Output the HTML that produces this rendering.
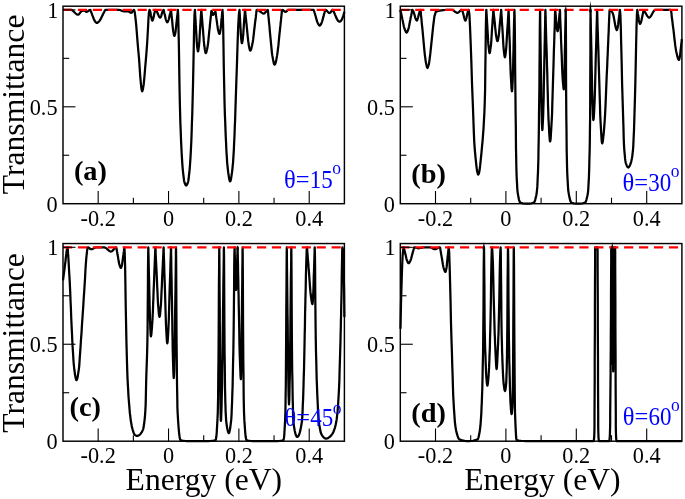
<!DOCTYPE html>
<html><head><meta charset="utf-8"><title>Transmittance</title>
<style>
html,body{margin:0;padding:0;background:#fff;}
svg{display:block;will-change:transform;font-family:"Liberation Serif",serif;}
</style></head>
<body>
<svg width="685" height="499" viewBox="0 0 685 499">
<rect width="685" height="499" fill="#fff"/>
<path d="M63.0,9.9 L64.3,9.9 L65.7,9.9 L67.0,9.9 L68.3,9.9 L69.7,9.9 L71.0,9.9 L72.2,10.3 L73.3,11.2 L74.5,12.3 L75.7,13.5 L76.8,14.4 L78.0,14.7 L78.7,14.5 L79.3,13.8 L80.0,12.9 L80.7,12.0 L81.3,11.2 L82.0,10.9 L82.4,10.8 L82.8,10.8 L83.2,10.7 L83.5,10.7 L83.9,10.7 L84.3,10.7 L84.7,10.8 L85.1,11.0 L85.4,11.3 L85.8,11.5 L86.2,11.8 L86.6,11.8 L87.2,11.7 L87.8,11.3 L88.4,10.9 L89.0,10.4 L89.6,10.0 L90.2,9.9 L90.4,10.0 L90.5,10.3 L90.7,10.7 L90.8,11.1 L91.0,11.6 L91.1,12.0 L91.3,12.5 L91.6,13.1 L91.8,13.6 L92.0,14.2 L92.2,14.8 L92.4,15.4 L92.8,16.3 L93.2,17.3 L93.5,18.3 L93.9,19.2 L94.3,20.0 L94.6,20.7 L95.0,21.2 L95.3,21.7 L95.7,22.2 L96.1,22.5 L96.4,22.8 L96.8,22.9 L97.3,22.8 L97.7,22.5 L98.2,22.2 L98.7,21.7 L99.2,21.2 L99.6,20.7 L100.1,20.0 L100.6,19.2 L101.1,18.3 L101.5,17.3 L102.0,16.3 L102.5,15.4 L102.8,14.8 L103.0,14.2 L103.3,13.6 L103.6,13.1 L103.9,12.5 L104.2,12.0 L104.4,11.6 L104.6,11.1 L104.8,10.7 L105.0,10.3 L105.2,10.0 L105.4,9.9 L107.7,9.9 L109.9,9.9 L112.2,9.9 L114.5,9.9 L116.7,9.9 L119.0,9.9 L119.8,10.0 L120.7,10.3 L121.5,10.6 L122.3,10.9 L123.2,11.2 L124.0,11.3 L124.7,11.3 L125.3,11.3 L126.0,11.3 L126.7,11.3 L127.3,11.3 L128.0,11.3 L128.5,11.4 L129.0,11.7 L129.6,12.0 L130.1,12.4 L130.6,12.7 L131.1,12.8 L131.6,12.6 L132.1,12.1 L132.6,11.4 L133.0,10.7 L133.5,10.1 L134.0,9.9 L134.7,11.9 L135.4,17.3 L136.2,24.9 L136.9,33.7 L137.6,42.6 L138.3,50.6 L139.0,58.1 L139.6,66.9 L140.2,75.8 L140.9,83.6 L141.5,89.2 L142.2,91.3 L142.9,89.4 L143.7,84.4 L144.4,77.2 L145.1,68.5 L145.9,59.4 L146.6,50.6 L147.1,43.8 L147.6,35.2 L148.1,26.1 L148.5,18.0 L149.0,12.2 L149.5,9.9 L150.0,10.7 L150.5,12.7 L150.9,15.2 L151.4,17.8 L151.9,19.8 L152.4,20.6 L152.9,19.8 L153.5,17.8 L154.0,15.2 L154.5,12.7 L155.1,10.7 L155.6,9.9 L156.3,10.5 L157.1,11.9 L157.8,13.8 L158.6,15.6 L159.3,17.1 L160.1,17.7 L160.7,17.1 L161.3,15.6 L161.8,13.8 L162.4,11.9 L163.0,10.5 L163.6,9.9 L163.6,9.9 L163.7,10.1 L163.7,10.2 L163.7,10.5 L163.8,10.7 L163.8,10.8 L164.0,11.5 L164.2,12.3 L164.3,13.0 L164.5,13.7 L164.7,14.4 L164.9,15.1 L165.1,16.0 L165.3,17.0 L165.5,17.9 L165.7,18.8 L165.9,19.6 L166.1,20.2 L166.3,20.7 L166.5,21.2 L166.7,21.6 L166.9,22.0 L167.1,22.2 L167.3,22.3 L167.5,22.2 L167.7,22.0 L167.9,21.6 L168.1,21.2 L168.3,20.7 L168.5,20.2 L168.7,19.6 L168.9,18.8 L169.1,17.9 L169.3,17.0 L169.5,16.0 L169.7,15.1 L169.9,14.4 L170.1,13.7 L170.3,13.0 L170.4,12.3 L170.6,11.5 L170.8,10.8 L170.8,10.7 L170.9,10.5 L170.9,10.2 L170.9,10.1 L171.0,9.9 L171.0,9.9 L171.0,10.0 L171.1,10.3 L171.1,10.6 L171.1,11.1 L171.2,11.5 L171.2,11.8 L171.4,13.3 L171.5,14.8 L171.7,16.3 L171.8,17.8 L172.0,19.3 L172.2,20.8 L172.3,22.7 L172.5,24.7 L172.7,26.7 L172.9,28.6 L173.1,30.2 L173.3,31.5 L173.5,32.5 L173.7,33.5 L173.8,34.4 L174.0,35.2 L174.2,35.7 L174.4,35.9 L174.6,35.7 L174.8,35.2 L175.0,34.4 L175.2,33.5 L175.4,32.5 L175.6,31.5 L175.7,30.2 L175.9,28.6 L176.1,26.7 L176.3,24.7 L176.5,22.7 L176.7,20.8 L176.9,19.3 L177.0,17.8 L177.2,16.3 L177.4,14.8 L177.5,13.3 L177.7,11.8 L177.7,11.5 L177.8,11.1 L177.8,10.6 L177.8,10.3 L177.9,10.0 L177.9,9.9 L178.2,15.0 L178.5,28.3 L178.9,46.6 L179.2,66.8 L179.5,86.0 L179.8,101.0 L180.0,109.0 L180.2,116.7 L180.4,123.9 L180.7,130.6 L180.9,136.5 L181.1,141.7 L181.4,147.9 L181.7,153.7 L182.0,158.9 L182.3,163.5 L182.6,167.5 L182.9,170.8 L183.2,173.5 L183.5,176.0 L183.8,178.3 L184.0,180.2 L184.3,181.7 L184.6,182.8 L184.9,183.5 L185.1,184.1 L185.4,184.7 L185.7,185.1 L185.9,185.4 L186.2,185.5 L186.5,185.4 L186.7,185.1 L187.0,184.7 L187.3,184.1 L187.5,183.5 L187.8,182.8 L188.1,181.7 L188.4,180.2 L188.7,178.3 L188.9,176.0 L189.2,173.5 L189.5,170.8 L189.8,167.5 L190.1,163.5 L190.4,158.9 L190.7,153.7 L191.0,147.9 L191.3,141.7 L191.5,136.4 L191.7,130.3 L191.9,123.4 L192.2,116.1 L192.4,108.6 L192.6,101.0 L193.0,85.0 L193.4,65.6 L193.8,45.5 L194.1,27.6 L194.5,14.8 L194.9,9.9 L194.9,10.1 L195.0,10.5 L195.0,11.1 L195.0,11.7 L195.1,12.4 L195.1,13.0 L195.2,15.4 L195.4,17.8 L195.5,20.2 L195.7,22.6 L195.8,24.9 L196.0,27.3 L196.1,30.3 L196.3,33.5 L196.5,36.7 L196.6,39.7 L196.8,42.3 L197.0,44.3 L197.1,46.0 L197.3,47.6 L197.5,49.1 L197.7,50.3 L197.8,51.1 L198.0,51.4 L198.2,51.1 L198.4,50.3 L198.5,49.1 L198.7,47.6 L198.9,46.0 L199.1,44.3 L199.3,42.3 L199.5,39.7 L199.6,36.7 L199.8,33.5 L200.0,30.3 L200.2,27.3 L200.3,24.9 L200.5,22.6 L200.6,20.2 L200.8,17.8 L200.9,15.4 L201.1,13.0 L201.1,12.4 L201.2,11.7 L201.2,11.1 L201.2,10.5 L201.3,10.1 L201.3,9.9 L201.3,10.1 L201.4,10.5 L201.4,11.1 L201.5,11.8 L201.5,12.5 L201.6,13.1 L201.8,15.6 L202.0,18.1 L202.2,20.6 L202.4,23.1 L202.6,25.6 L202.8,28.1 L203.1,31.2 L203.3,34.5 L203.6,37.8 L203.8,40.9 L204.1,43.7 L204.3,45.8 L204.6,47.5 L204.8,49.2 L205.1,50.7 L205.3,52.0 L205.6,52.8 L205.8,53.1 L206.1,52.8 L206.4,52.0 L206.7,50.8 L207.1,49.3 L207.4,47.6 L207.7,45.9 L208.0,43.9 L208.3,41.3 L208.6,38.2 L208.9,35.0 L209.2,31.7 L209.6,28.6 L209.8,26.8 L209.9,24.9 L210.1,23.1 L210.3,21.2 L210.5,19.4 L210.7,17.6 L210.8,16.3 L211.0,14.8 L211.1,13.4 L211.2,12.1 L211.4,11.2 L211.5,10.9 L211.7,11.2 L212.0,11.9 L212.2,12.9 L212.4,13.9 L212.7,14.6 L212.9,14.9 L213.3,14.7 L213.7,14.1 L214.2,13.4 L214.6,12.6 L215.0,12.1 L215.4,11.8 L215.5,12.0 L215.6,12.5 L215.7,13.1 L215.8,13.9 L215.9,14.7 L216.0,15.4 L216.1,16.3 L216.2,17.2 L216.4,18.2 L216.5,19.2 L216.7,20.2 L216.8,21.1 L217.0,22.7 L217.2,24.4 L217.5,26.1 L217.7,27.7 L217.9,29.1 L218.1,30.2 L218.4,31.1 L218.6,31.9 L218.8,32.7 L219.0,33.4 L219.3,33.8 L219.5,33.9 L219.7,33.8 L219.8,33.3 L220.0,32.6 L220.2,31.8 L220.3,30.8 L220.5,29.8 L220.7,28.7 L220.8,27.2 L221.0,25.4 L221.2,23.6 L221.3,21.7 L221.5,20.0 L221.6,18.6 L221.8,17.2 L221.9,15.9 L222.0,14.5 L222.2,13.1 L222.3,11.7 L222.3,11.4 L222.4,11.0 L222.4,10.6 L222.4,10.2 L222.5,10.0 L222.5,9.9 L222.8,15.1 L223.2,28.4 L223.5,46.9 L223.8,67.2 L224.2,86.3 L224.5,101.0 L224.7,108.2 L224.9,115.1 L225.2,121.5 L225.4,127.4 L225.6,132.9 L225.8,137.8 L226.1,143.4 L226.3,148.8 L226.6,153.8 L226.9,158.2 L227.1,162.0 L227.4,164.9 L227.8,169.1 L228.3,173.0 L228.8,176.3 L229.2,179.0 L229.7,180.8 L230.1,181.4 L230.6,180.8 L231.0,179.0 L231.4,176.3 L231.9,173.0 L232.4,169.1 L232.8,164.9 L233.1,162.0 L233.3,158.2 L233.6,153.8 L233.9,148.8 L234.1,143.4 L234.4,137.8 L234.6,132.7 L234.8,126.7 L235.1,120.2 L235.3,113.5 L235.5,107.0 L235.7,101.0 L236.3,82.7 L237.0,62.6 L237.6,42.9 L238.2,26.1 L238.9,14.3 L239.5,9.9 L239.5,10.0 L239.5,10.4 L239.6,10.8 L239.6,11.4 L239.6,11.9 L239.6,12.4 L239.8,14.3 L239.9,16.2 L240.0,18.2 L240.1,20.1 L240.2,22.0 L240.3,23.9 L240.4,26.3 L240.6,28.9 L240.7,31.4 L240.8,33.8 L241.0,35.9 L241.1,37.6 L241.2,38.9 L241.4,40.2 L241.5,41.4 L241.6,42.4 L241.8,43.0 L241.9,43.2 L242.1,43.0 L242.2,42.4 L242.4,41.4 L242.6,40.2 L242.8,38.9 L242.9,37.6 L243.1,35.9 L243.3,33.8 L243.4,31.4 L243.6,28.9 L243.8,26.3 L243.9,23.9 L244.1,22.0 L244.2,20.1 L244.4,18.2 L244.5,16.2 L244.7,14.3 L244.8,12.4 L244.8,11.9 L244.9,11.4 L244.9,10.8 L244.9,10.4 L245.0,10.0 L245.0,9.9 L245.1,10.1 L245.1,10.5 L245.2,11.0 L245.2,11.7 L245.3,12.4 L245.3,13.0 L245.6,15.3 L245.8,17.6 L246.1,20.0 L246.3,22.3 L246.6,24.6 L246.8,27.0 L247.1,29.9 L247.4,33.1 L247.7,36.2 L248.0,39.1 L248.3,41.7 L248.6,43.7 L248.8,45.3 L249.1,46.9 L249.4,48.4 L249.7,49.5 L250.0,50.3 L250.3,50.6 L250.7,50.3 L251.0,49.5 L251.4,48.4 L251.7,46.9 L252.1,45.3 L252.4,43.7 L252.8,41.7 L253.2,39.2 L253.5,36.3 L253.9,33.1 L254.2,30.0 L254.6,27.0 L254.8,25.2 L255.0,23.4 L255.2,21.6 L255.5,19.8 L255.7,18.1 L255.9,16.4 L256.0,15.1 L256.2,13.7 L256.3,12.3 L256.5,11.1 L256.6,10.2 L256.8,9.9 L258.0,10.2 L259.2,10.9 L260.4,11.7 L261.6,12.6 L262.8,13.3 L264.0,13.6 L264.6,13.3 L265.2,12.6 L265.9,11.7 L266.5,10.9 L267.1,10.2 L267.7,9.9 L267.9,10.3 L268.0,11.5 L268.2,13.1 L268.3,15.0 L268.5,16.9 L268.7,18.7 L268.9,20.9 L269.1,23.3 L269.4,25.7 L269.6,28.2 L269.8,30.6 L270.0,32.9 L270.4,37.0 L270.8,41.2 L271.2,45.4 L271.6,49.3 L271.9,52.8 L272.3,55.4 L272.7,57.6 L273.1,59.8 L273.5,61.7 L273.8,63.3 L274.2,64.4 L274.6,64.7 L275.0,64.4 L275.4,63.3 L275.9,61.7 L276.3,59.8 L276.7,57.6 L277.1,55.4 L277.5,52.8 L277.9,49.3 L278.4,45.4 L278.8,41.2 L279.2,37.0 L279.6,32.9 L279.9,30.6 L280.1,28.2 L280.4,25.7 L280.6,23.3 L280.9,20.9 L281.1,18.7 L281.3,16.9 L281.5,15.0 L281.7,13.1 L281.8,11.5 L282.0,10.3 L282.2,9.9 L282.8,10.0 L283.3,10.4 L283.9,10.9 L284.4,11.3 L284.9,11.7 L285.5,11.8 L286.0,11.7 L286.5,11.3 L287.0,10.9 L287.5,10.4 L288.0,10.0 L288.5,9.9 L292.7,9.9 L296.9,9.9 L301.1,9.9 L305.2,9.9 L309.4,9.9 L313.6,9.9 L313.7,10.0 L313.9,10.4 L314.0,10.8 L314.2,11.4 L314.3,11.9 L314.5,12.4 L314.7,13.1 L314.9,13.7 L315.1,14.4 L315.3,15.1 L315.5,15.8 L315.7,16.5 L316.0,17.6 L316.3,18.9 L316.7,20.1 L317.0,21.2 L317.4,22.2 L317.7,22.9 L318.0,23.6 L318.4,24.2 L318.7,24.7 L319.0,25.2 L319.4,25.5 L319.7,25.6 L320.0,25.5 L320.3,25.2 L320.6,24.7 L321.0,24.2 L321.3,23.6 L321.6,22.9 L321.9,22.2 L322.2,21.2 L322.5,20.1 L322.8,18.9 L323.1,17.6 L323.5,16.5 L323.7,15.8 L323.8,15.1 L324.0,14.4 L324.2,13.7 L324.4,13.1 L324.6,12.4 L324.7,11.9 L324.9,11.4 L325.0,10.8 L325.1,10.4 L325.3,10.0 L325.4,9.9 L326.1,10.1 L326.8,10.7 L327.5,11.5 L328.2,12.2 L328.9,12.8 L329.6,13.0 L330.2,12.8 L330.7,12.2 L331.2,11.5 L331.8,10.7 L332.3,10.1 L332.9,9.9 L333.1,10.0 L333.2,10.2 L333.4,10.6 L333.5,11.0 L333.7,11.4 L333.8,11.8 L334.0,12.3 L334.3,12.8 L334.5,13.3 L334.7,13.8 L334.9,14.4 L335.1,14.9 L335.5,15.7 L335.9,16.6 L336.2,17.6 L336.6,18.4 L337.0,19.1 L337.3,19.7 L337.7,20.2 L338.0,20.7 L338.4,21.1 L338.8,21.4 L339.1,21.6 L339.5,21.7 L340.3,21.4 L341.1,20.6 L341.9,19.3 L342.8,17.3 L343.6,14.9 L344.4,11.8" fill="none" stroke="#000" stroke-width="2.25" stroke-linejoin="round"/>
<line x1="63.0" y1="9.9" x2="344.4" y2="9.9" stroke="#f00" stroke-width="2.3" stroke-dasharray="9.2 5.72"/>
<rect x="63.0" y="6.2" width="281.40" height="197.50" fill="none" stroke="#000" stroke-width="1.45"/>
<line x1="98.17" y1="203.7" x2="98.17" y2="191.0" stroke="#000" stroke-width="1.1"/>
<line x1="133.35" y1="203.7" x2="133.35" y2="197.7" stroke="#000" stroke-width="1.1"/>
<line x1="168.52" y1="203.7" x2="168.52" y2="191.0" stroke="#000" stroke-width="1.1"/>
<line x1="203.70" y1="203.7" x2="203.70" y2="197.7" stroke="#000" stroke-width="1.1"/>
<line x1="238.88" y1="203.7" x2="238.88" y2="191.0" stroke="#000" stroke-width="1.1"/>
<line x1="274.05" y1="203.7" x2="274.05" y2="197.7" stroke="#000" stroke-width="1.1"/>
<line x1="309.22" y1="203.7" x2="309.22" y2="191.0" stroke="#000" stroke-width="1.1"/>
<line x1="63.0" y1="155.25" x2="69.2" y2="155.25" stroke="#000" stroke-width="1.1"/>
<line x1="63.0" y1="106.80" x2="75.5" y2="106.80" stroke="#000" stroke-width="1.1"/>
<line x1="63.0" y1="58.35" x2="69.2" y2="58.35" stroke="#000" stroke-width="1.1"/>
<line x1="63.0" y1="9.90" x2="75.5" y2="9.90" stroke="#000" stroke-width="1.1"/>
<text transform="translate(98.17,225.70) scale(1,1.07)" font-size="22.3" text-anchor="middle" >-0.2</text>
<text transform="translate(168.52,225.70) scale(1,1.07)" font-size="22.3" text-anchor="middle" >0</text>
<text transform="translate(238.88,225.70) scale(1,1.07)" font-size="22.3" text-anchor="middle" >0.2</text>
<text transform="translate(309.22,225.70) scale(1,1.07)" font-size="22.3" text-anchor="middle" >0.4</text>
<text transform="translate(57.60,211.50) scale(1,1.07)" font-size="22.3" text-anchor="end" >0</text>
<text transform="translate(57.60,114.60) scale(1,1.07)" font-size="22.3" text-anchor="end" >0.5</text>
<text transform="translate(58.40,17.70) scale(1,1.07)" font-size="22.3" text-anchor="end" >1</text>
<text transform="translate(73.90,180.10) scale(1,0.97)" font-size="28.4" text-anchor="start" font-weight="bold">(a)</text>
<text transform="translate(284.00,188.30) scale(1,1.07)" font-size="23" text-anchor="start" fill="#00f"><tspan font-size="24.5">&#952;=</tspan><tspan dx="0.2">15</tspan><tspan font-size="17.5" dy="-13.3" dx="-0.4">o</tspan></text>
<path d="M400.3,9.9 L400.4,10.5 L400.6,11.1 L400.7,11.7 L400.9,12.3 L401.0,12.9 L401.2,13.5 L401.4,14.5 L401.6,15.4 L401.8,16.4 L402.0,17.4 L402.2,18.4 L402.4,19.4 L402.8,21.1 L403.1,22.8 L403.5,24.6 L403.8,26.2 L404.2,27.6 L404.5,28.7 L404.9,29.6 L405.2,30.5 L405.6,31.3 L405.9,32.0 L406.3,32.4 L406.6,32.6 L406.9,32.4 L407.2,32.0 L407.5,31.3 L407.9,30.5 L408.2,29.6 L408.5,28.7 L408.8,27.6 L409.1,26.2 L409.4,24.5 L409.7,22.8 L410.0,21.1 L410.4,19.4 L410.6,18.1 L410.9,16.8 L411.2,15.5 L411.4,14.2 L411.7,12.9 L412.0,11.6 L412.0,11.3 L412.1,10.9 L412.1,10.5 L412.2,10.2 L412.2,10.0 L412.3,9.9 L413.1,10.7 L413.8,12.7 L414.6,15.2 L415.3,17.8 L416.1,19.8 L416.8,20.6 L417.4,19.8 L418.0,17.8 L418.6,15.2 L419.3,12.7 L419.9,10.7 L420.5,9.9 L420.6,10.1 L420.6,10.7 L420.7,11.5 L420.8,12.5 L420.9,13.4 L420.9,14.3 L421.3,17.6 L421.6,21.0 L421.9,24.3 L422.3,27.6 L422.6,31.0 L422.9,34.3 L423.3,38.5 L423.7,43.0 L424.1,47.5 L424.5,51.7 L424.9,55.3 L425.3,58.2 L425.6,60.5 L426.0,62.8 L426.4,64.8 L426.8,66.5 L427.2,67.6 L427.6,68.0 L429.0,63.9 L430.3,53.7 L431.7,40.3 L433.1,26.8 L434.4,16.3 L435.8,11.8 L437.7,11.2 L439.5,10.7 L441.4,10.4 L443.3,10.1 L445.1,10.0 L447.0,9.9 L447.8,9.9 L448.7,9.9 L449.5,9.9 L450.3,9.9 L451.2,9.9 L452.0,9.9 L452.9,10.1 L453.8,10.7 L454.6,11.4 L455.5,12.1 L456.4,12.6 L457.3,12.8 L458.1,12.6 L458.8,12.1 L459.6,11.4 L460.3,10.7 L461.1,10.1 L461.8,9.9 L462.4,10.7 L463.0,12.7 L463.6,15.2 L464.2,17.8 L464.8,19.8 L465.4,20.6 L465.9,19.8 L466.5,17.8 L467.0,15.2 L467.6,12.7 L468.1,10.7 L468.7,9.9 L469.4,14.4 L470.0,26.4 L470.7,43.5 L471.4,63.2 L472.0,83.2 L472.7,101.0 L473.0,108.7 L473.3,117.2 L473.6,125.8 L473.9,133.9 L474.2,140.7 L474.5,145.6 L475.1,153.2 L475.8,160.1 L476.4,166.0 L477.0,170.6 L477.7,173.6 L478.3,174.6 L478.9,173.4 L479.6,170.1 L480.2,165.2 L480.8,159.1 L481.5,152.4 L482.1,145.6 L482.6,140.6 L483.0,135.2 L483.5,128.9 L483.9,121.4 L484.4,112.2 L484.8,101.0 L485.1,89.5 L485.3,71.3 L485.6,50.3 L485.8,30.5 L486.1,15.7 L486.3,9.9 L486.3,10.1 L486.4,10.5 L486.4,11.1 L486.4,11.8 L486.5,12.5 L486.5,13.1 L486.7,15.6 L486.8,18.1 L487.0,20.6 L487.1,23.1 L487.3,25.6 L487.4,28.1 L487.6,31.2 L487.8,34.5 L488.0,37.8 L488.1,40.9 L488.3,43.7 L488.5,45.8 L488.7,47.5 L488.9,49.2 L489.1,50.7 L489.2,52.0 L489.4,52.8 L489.6,53.1 L489.8,52.8 L490.0,52.0 L490.2,50.7 L490.4,49.2 L490.6,47.5 L490.9,45.8 L491.1,43.7 L491.3,40.9 L491.5,37.8 L491.7,34.5 L491.9,31.2 L492.1,28.1 L492.3,25.6 L492.5,23.1 L492.6,20.6 L492.8,18.1 L493.0,15.6 L493.2,13.1 L493.2,12.5 L493.2,11.8 L493.3,11.1 L493.3,10.5 L493.4,10.1 L493.4,9.9 L493.4,10.0 L493.5,10.3 L493.5,10.8 L493.6,11.3 L493.6,11.8 L493.6,12.2 L493.8,14.0 L494.0,15.8 L494.2,17.6 L494.4,19.4 L494.6,21.2 L494.8,23.0 L495.0,25.3 L495.2,27.7 L495.5,30.1 L495.7,32.3 L495.9,34.3 L496.1,35.8 L496.4,37.1 L496.6,38.3 L496.8,39.4 L497.0,40.3 L497.3,40.9 L497.5,41.1 L497.7,40.9 L497.9,40.3 L498.1,39.4 L498.3,38.3 L498.5,37.1 L498.7,35.8 L498.9,34.3 L499.1,32.3 L499.3,30.1 L499.5,27.7 L499.7,25.3 L499.9,23.0 L500.1,21.2 L500.3,19.4 L500.5,17.6 L500.6,15.8 L500.8,14.0 L501.0,12.2 L501.0,11.8 L501.1,11.3 L501.1,10.8 L501.1,10.3 L501.2,10.0 L501.2,9.9 L501.2,10.1 L501.3,10.6 L501.3,11.2 L501.3,12.0 L501.4,12.8 L501.4,13.4 L501.6,16.2 L501.8,18.9 L501.9,21.6 L502.1,24.3 L502.3,27.0 L502.5,29.8 L502.7,33.2 L502.9,36.8 L503.1,40.4 L503.3,43.9 L503.5,46.8 L503.7,49.1 L503.9,51.1 L504.1,52.9 L504.3,54.6 L504.5,55.9 L504.7,56.9 L504.9,57.2 L505.1,56.9 L505.3,55.9 L505.5,54.6 L505.7,52.9 L505.9,51.1 L506.1,49.1 L506.3,46.8 L506.5,43.9 L506.7,40.4 L506.9,36.8 L507.1,33.2 L507.3,29.8 L507.5,27.0 L507.7,24.3 L507.9,21.6 L508.0,18.9 L508.2,16.2 L508.4,13.4 L508.4,12.8 L508.5,12.0 L508.5,11.2 L508.5,10.6 L508.6,10.1 L508.6,9.9 L508.6,10.2 L508.7,11.0 L508.7,12.2 L508.7,13.5 L508.8,14.8 L508.8,16.0 L509.0,20.7 L509.1,25.4 L509.3,30.1 L509.4,34.7 L509.6,39.4 L509.8,44.1 L509.9,50.0 L510.1,56.2 L510.3,62.5 L510.5,68.4 L510.7,73.5 L510.9,77.5 L511.1,80.7 L511.3,83.9 L511.4,86.8 L511.6,89.2 L511.8,90.7 L512.0,91.3 L512.1,90.7 L512.3,89.2 L512.4,86.8 L512.5,83.9 L512.7,80.7 L512.8,77.5 L512.9,73.5 L513.1,68.4 L513.2,62.5 L513.3,56.2 L513.5,50.0 L513.6,44.1 L513.7,39.4 L513.8,34.7 L513.9,30.1 L514.0,25.4 L514.1,20.7 L514.3,16.0 L514.3,14.8 L514.3,13.5 L514.3,12.2 L514.4,11.0 L514.4,10.2 L514.4,9.9 L514.6,14.6 L514.8,26.9 L515.0,44.3 L515.1,64.1 L515.3,83.9 L515.5,101.0 L515.6,112.6 L515.8,125.1 L515.9,137.6 L516.0,149.1 L516.2,158.5 L516.3,164.9 L516.5,172.0 L516.7,178.0 L517.0,183.0 L517.2,187.1 L517.4,190.1 L517.6,192.1 L518.1,195.1 L518.6,197.7 L519.0,199.8 L519.5,201.3 L520.0,202.3 L520.5,202.7 L521.6,203.0 L522.7,203.3 L523.8,203.5 L524.8,203.6 L525.9,203.7 L527.0,203.7 L528.1,203.7 L529.2,203.6 L530.3,203.5 L531.4,203.3 L532.5,203.0 L533.6,202.7 L534.1,202.3 L534.7,201.3 L535.2,199.8 L535.7,197.7 L536.3,195.2 L536.8,192.1 L537.0,190.0 L537.3,186.9 L537.5,182.8 L537.7,177.7 L538.0,171.7 L538.2,164.9 L538.4,158.5 L538.5,149.6 L538.7,139.0 L538.9,127.0 L539.0,114.1 L539.2,101.0 L539.4,86.0 L539.5,66.9 L539.7,46.6 L539.8,28.3 L540.0,15.0 L540.1,9.9 L540.1,10.4 L540.1,11.6 L540.2,13.3 L540.2,15.2 L540.2,17.2 L540.2,18.9 L540.3,25.9 L540.4,32.8 L540.5,39.7 L540.6,46.5 L540.7,53.4 L540.8,60.4 L541.0,69.0 L541.1,78.3 L541.2,87.5 L541.3,96.2 L541.5,103.8 L541.6,109.6 L541.7,114.5 L541.8,119.2 L541.9,123.5 L542.1,126.9 L542.2,129.2 L542.3,130.1 L542.5,129.2 L542.6,126.9 L542.8,123.5 L543.0,119.2 L543.2,114.5 L543.3,109.6 L543.5,103.8 L543.7,96.2 L543.8,87.5 L544.0,78.3 L544.2,69.0 L544.3,60.4 L544.5,53.4 L544.6,46.5 L544.8,39.7 L544.9,32.8 L545.1,25.9 L545.2,18.9 L545.2,17.2 L545.3,15.2 L545.3,13.3 L545.3,11.6 L545.4,10.4 L545.4,9.9 L545.4,10.4 L545.5,11.7 L545.5,13.6 L545.6,15.8 L545.6,17.9 L545.7,19.8 L545.9,27.4 L546.1,34.9 L546.3,42.5 L546.6,50.0 L546.8,57.6 L547.0,65.2 L547.3,74.7 L547.5,84.8 L547.8,94.9 L548.0,104.4 L548.3,112.7 L548.5,119.1 L548.8,124.4 L549.1,129.6 L549.3,134.3 L549.6,138.0 L549.8,140.6 L550.1,141.5 L550.4,140.6 L550.7,138.0 L550.9,134.3 L551.2,129.6 L551.5,124.4 L551.8,119.1 L552.1,112.7 L552.3,104.4 L552.6,94.9 L552.9,84.8 L553.2,74.7 L553.5,65.2 L553.7,57.6 L553.9,50.0 L554.2,42.5 L554.4,34.9 L554.7,27.4 L554.9,19.8 L554.9,17.9 L555.0,15.8 L555.0,13.6 L555.1,11.7 L555.1,10.4 L555.2,9.9 L555.2,10.0 L555.2,10.2 L555.3,10.5 L555.3,10.8 L555.3,11.2 L555.3,11.5 L555.5,12.7 L555.6,14.0 L555.7,15.2 L555.8,16.4 L555.9,17.6 L556.0,18.9 L556.1,20.4 L556.3,22.0 L556.4,23.7 L556.5,25.2 L556.7,26.6 L556.8,27.6 L556.9,28.5 L557.1,29.3 L557.2,30.0 L557.3,30.7 L557.5,31.1 L557.6,31.2 L557.7,31.1 L557.9,30.7 L558.0,30.0 L558.1,29.3 L558.2,28.5 L558.4,27.6 L558.5,26.6 L558.6,25.2 L558.7,23.7 L558.9,22.0 L559.0,20.4 L559.1,18.9 L559.2,17.6 L559.3,16.4 L559.4,15.2 L559.5,14.0 L559.7,12.7 L559.8,11.5 L559.8,11.2 L559.8,10.8 L559.8,10.5 L559.9,10.2 L559.9,10.0 L559.9,9.9 L559.9,10.2 L560.0,11.0 L560.0,12.1 L560.1,13.4 L560.1,14.7 L560.1,15.9 L560.3,20.5 L560.5,25.0 L560.7,29.6 L560.9,34.1 L561.0,38.7 L561.2,43.3 L561.4,49.0 L561.7,55.1 L561.9,61.2 L562.1,67.0 L562.3,72.0 L562.5,75.9 L562.7,79.1 L562.9,82.2 L563.2,85.0 L563.4,87.3 L563.6,88.8 L563.8,89.4 L563.9,88.8 L564.0,87.3 L564.1,85.0 L564.2,82.2 L564.3,79.1 L564.4,75.9 L564.5,72.0 L564.6,67.0 L564.7,61.2 L564.8,55.1 L564.9,49.0 L565.1,43.3 L565.1,38.7 L565.2,34.1 L565.3,29.6 L565.4,25.0 L565.5,20.5 L565.6,15.9 L565.6,14.7 L565.6,13.4 L565.6,12.1 L565.7,11.0 L565.7,10.2 L565.7,9.9 L565.8,15.3 L565.9,29.3 L566.0,48.3 L566.0,68.9 L566.1,87.6 L566.2,101.0 L566.3,115.7 L566.5,129.3 L566.6,141.3 L566.7,151.4 L566.9,159.4 L567.0,164.9 L567.2,172.2 L567.5,178.3 L567.8,183.2 L568.0,187.1 L568.2,190.0 L568.5,192.1 L569.0,195.1 L569.5,197.6 L570.0,199.7 L570.5,201.3 L571.0,202.3 L571.5,202.7 L572.6,203.0 L573.7,203.3 L574.8,203.5 L575.8,203.6 L576.9,203.7 L578.0,203.7 L579.1,203.7 L580.3,203.6 L581.4,203.5 L582.5,203.3 L583.7,203.0 L584.8,202.7 L585.3,202.3 L585.9,201.3 L586.4,199.8 L586.9,197.8 L587.5,195.2 L588.0,192.1 L588.2,190.1 L588.4,187.0 L588.6,182.9 L588.9,177.8 L589.1,171.8 L589.3,164.9 L589.4,159.4 L589.6,152.5 L589.8,143.7 L589.9,132.5 L590.1,118.4 L590.2,101.0 L590.2,89.8 L590.3,71.7 L590.4,50.6 L590.4,30.7 L590.5,15.8 L590.5,9.9 L590.5,10.3 L590.6,11.4 L590.6,13.0 L590.6,14.8 L590.6,16.6 L590.7,18.2 L590.8,24.5 L590.9,30.9 L591.1,37.2 L591.2,43.5 L591.4,49.8 L591.5,56.1 L591.6,64.1 L591.8,72.5 L592.0,81.0 L592.1,89.0 L592.3,95.9 L592.4,101.3 L592.6,105.7 L592.8,110.0 L592.9,113.9 L593.1,117.1 L593.2,119.2 L593.4,120.0 L593.6,119.2 L593.8,117.1 L594.0,113.9 L594.2,110.0 L594.4,105.7 L594.6,101.3 L594.8,95.9 L595.0,89.0 L595.2,81.0 L595.4,72.5 L595.6,64.1 L595.8,56.1 L596.0,49.8 L596.2,43.5 L596.4,37.2 L596.5,30.9 L596.7,24.5 L596.9,18.2 L596.9,16.6 L597.0,14.8 L597.0,13.0 L597.0,11.4 L597.1,10.3 L597.1,9.9 L597.2,10.4 L597.2,11.8 L597.3,13.7 L597.3,15.8 L597.4,18.0 L597.4,19.9 L597.6,27.6 L597.9,35.3 L598.1,43.0 L598.4,50.6 L598.6,58.3 L598.8,66.0 L599.1,75.6 L599.4,85.9 L599.7,96.2 L600.0,105.8 L600.2,114.2 L600.5,120.7 L600.8,126.1 L601.1,131.4 L601.4,136.1 L601.6,139.9 L601.9,142.5 L602.2,143.4 L602.6,142.5 L603.0,139.9 L603.4,136.1 L603.9,131.4 L604.3,126.1 L604.7,120.7 L605.1,114.3 L605.5,105.9 L605.9,96.4 L606.3,86.1 L606.7,75.8 L607.2,66.0 L607.4,60.2 L607.7,54.3 L607.9,48.4 L608.2,42.5 L608.4,36.8 L608.7,31.3 L608.8,27.1 L609.0,22.4 L609.2,17.8 L609.4,13.8 L609.5,11.0 L609.7,9.9 L610.2,10.0 L610.7,10.3 L611.2,10.8 L611.6,11.4 L612.1,12.1 L612.6,12.8 L613.3,14.8 L614.0,18.2 L614.7,22.2 L615.4,26.1 L616.1,28.9 L616.8,30.1 L617.0,29.9 L617.1,29.5 L617.3,28.9 L617.5,28.2 L617.7,27.4 L617.8,26.6 L618.0,25.6 L618.2,24.4 L618.3,22.9 L618.5,21.4 L618.7,19.8 L618.8,18.4 L619.0,17.2 L619.1,16.0 L619.3,14.9 L619.4,13.7 L619.6,12.6 L619.7,11.4 L619.7,11.1 L619.8,10.8 L619.8,10.5 L619.8,10.2 L619.9,10.0 L619.9,9.9 L620.4,14.6 L620.8,27.0 L621.2,44.5 L621.7,64.2 L622.1,83.6 L622.6,100.0 L622.9,109.3 L623.2,119.2 L623.5,129.0 L623.7,137.8 L624.0,145.1 L624.3,150.0 L624.6,153.4 L624.9,156.3 L625.1,158.9 L625.4,160.9 L625.7,162.5 L626.0,163.6 L626.4,164.6 L626.8,165.6 L627.1,166.3 L627.5,166.9 L627.9,167.3 L628.3,167.5 L628.7,167.3 L629.1,166.8 L629.5,166.1 L630.0,165.2 L630.4,164.1 L630.8,163.0 L631.2,161.8 L631.5,160.3 L631.9,158.4 L632.3,156.1 L632.6,153.3 L633.0,150.0 L633.3,145.5 L633.6,138.6 L634.0,130.0 L634.3,120.3 L634.6,110.0 L634.9,100.0 L635.3,84.8 L635.7,65.7 L636.1,45.7 L636.5,27.8 L636.9,14.9 L637.3,9.9 L637.3,10.0 L637.4,10.1 L637.4,10.3 L637.4,10.5 L637.4,10.7 L637.5,10.9 L637.6,11.8 L637.7,12.6 L637.8,13.4 L638.0,14.2 L638.1,15.0 L638.2,15.8 L638.4,16.8 L638.5,17.8 L638.7,18.9 L638.8,19.9 L639.0,20.8 L639.1,21.5 L639.3,22.0 L639.4,22.6 L639.6,23.1 L639.7,23.5 L639.9,23.8 L640.0,23.9 L640.2,23.8 L640.4,23.5 L640.6,23.1 L640.8,22.7 L641.0,22.2 L641.2,21.6 L641.3,21.0 L641.5,20.2 L641.7,19.3 L641.9,18.3 L642.1,17.3 L642.3,16.3 L642.5,15.6 L642.6,14.8 L642.8,14.1 L643.0,13.3 L643.1,12.6 L643.3,11.8 L643.3,11.7 L643.4,11.4 L643.4,11.2 L643.4,11.0 L643.5,10.9 L643.5,10.9 L644.4,11.4 L645.4,12.6 L646.3,14.3 L647.2,15.9 L648.2,17.1 L649.1,17.7 L650.1,17.1 L651.2,15.6 L652.2,13.8 L653.2,11.9 L654.3,10.5 L655.3,9.9 L657.9,9.9 L660.5,9.9 L663.0,9.9 L665.6,9.9 L668.2,9.9 L670.8,9.9 L671.0,10.3 L671.2,11.3 L671.4,12.8 L671.6,14.6 L671.7,16.3 L671.9,17.9 L672.2,20.0 L672.5,22.1 L672.7,24.3 L673.0,26.5 L673.3,28.7 L673.6,30.9 L674.0,34.6 L674.4,38.4 L674.9,42.3 L675.3,45.9 L675.8,49.0 L676.2,51.4 L676.7,53.4 L677.1,55.4 L677.6,57.2 L678.0,58.6 L678.5,59.5 L678.9,59.9 L679.1,59.8 L679.2,59.4 L679.4,58.8 L679.6,58.0 L679.7,57.2 L679.9,56.3 L680.1,55.3 L680.2,54.0 L680.4,52.5 L680.5,50.9 L680.7,49.3 L680.9,47.8 L681.0,46.9 L681.1,45.9 L681.2,45.0 L681.3,44.1 L681.4,43.2 L681.5,42.3 L681.5,41.7 L681.6,41.2 L681.7,40.6 L681.8,40.0 L681.8,39.5 L681.9,39.0" fill="none" stroke="#000" stroke-width="2.25" stroke-linejoin="round"/>
<line x1="400.3" y1="9.9" x2="681.9" y2="9.9" stroke="#f00" stroke-width="2.3" stroke-dasharray="9.2 5.72"/>
<rect x="400.3" y="6.2" width="281.60" height="197.50" fill="none" stroke="#000" stroke-width="1.45"/>
<line x1="435.50" y1="203.7" x2="435.50" y2="191.0" stroke="#000" stroke-width="1.1"/>
<line x1="470.70" y1="203.7" x2="470.70" y2="197.7" stroke="#000" stroke-width="1.1"/>
<line x1="505.90" y1="203.7" x2="505.90" y2="191.0" stroke="#000" stroke-width="1.1"/>
<line x1="541.10" y1="203.7" x2="541.10" y2="197.7" stroke="#000" stroke-width="1.1"/>
<line x1="576.30" y1="203.7" x2="576.30" y2="191.0" stroke="#000" stroke-width="1.1"/>
<line x1="611.50" y1="203.7" x2="611.50" y2="197.7" stroke="#000" stroke-width="1.1"/>
<line x1="646.70" y1="203.7" x2="646.70" y2="191.0" stroke="#000" stroke-width="1.1"/>
<line x1="400.3" y1="155.25" x2="406.5" y2="155.25" stroke="#000" stroke-width="1.1"/>
<line x1="400.3" y1="106.80" x2="412.8" y2="106.80" stroke="#000" stroke-width="1.1"/>
<line x1="400.3" y1="58.35" x2="406.5" y2="58.35" stroke="#000" stroke-width="1.1"/>
<line x1="400.3" y1="9.90" x2="412.8" y2="9.90" stroke="#000" stroke-width="1.1"/>
<text transform="translate(435.50,225.70) scale(1,1.07)" font-size="22.3" text-anchor="middle" >-0.2</text>
<text transform="translate(505.90,225.70) scale(1,1.07)" font-size="22.3" text-anchor="middle" >0</text>
<text transform="translate(576.30,225.70) scale(1,1.07)" font-size="22.3" text-anchor="middle" >0.2</text>
<text transform="translate(646.70,225.70) scale(1,1.07)" font-size="22.3" text-anchor="middle" >0.4</text>
<text transform="translate(394.90,211.50) scale(1,1.07)" font-size="22.3" text-anchor="end" >0</text>
<text transform="translate(394.90,114.60) scale(1,1.07)" font-size="22.3" text-anchor="end" >0.5</text>
<text transform="translate(395.70,17.70) scale(1,1.07)" font-size="22.3" text-anchor="end" >1</text>
<text transform="translate(411.20,183.00) scale(1,0.97)" font-size="28.4" text-anchor="start" font-weight="bold">(b)</text>
<text transform="translate(622.40,191.20) scale(1,1.07)" font-size="23" text-anchor="start" fill="#00f"><tspan font-size="24.5">&#952;=</tspan><tspan dx="0.2">30</tspan><tspan font-size="17.5" dy="-13.6" dx="-0.4">o</tspan></text>
<path d="M63.0,280.3 L63.4,277.6 L63.7,274.8 L64.1,272.0 L64.5,269.2 L64.8,266.3 L65.2,263.4 L65.5,261.1 L65.7,258.7 L66.0,256.3 L66.3,253.9 L66.5,251.9 L66.8,250.2 L66.9,249.6 L67.0,248.9 L67.2,248.3 L67.3,247.8 L67.4,247.4 L67.5,247.3 L67.6,247.8 L67.8,249.0 L67.9,250.7 L68.0,252.8 L68.2,255.0 L68.3,257.0 L68.6,261.8 L68.9,267.2 L69.2,272.9 L69.6,279.1 L69.9,285.4 L70.2,291.9 L70.5,299.7 L70.9,308.3 L71.2,317.2 L71.6,325.9 L72.0,334.0 L72.3,341.0 L72.6,346.8 L73.0,352.5 L73.3,357.8 L73.6,362.5 L74.0,366.5 L74.3,369.5 L74.7,372.1 L75.0,374.6 L75.4,376.8 L75.8,378.5 L76.1,379.7 L76.5,380.1 L76.9,379.7 L77.3,378.5 L77.7,376.8 L78.0,374.6 L78.4,372.1 L78.8,369.5 L79.2,366.3 L79.5,362.1 L79.8,357.1 L80.2,351.7 L80.6,346.2 L80.9,341.0 L81.5,332.8 L82.0,324.4 L82.6,315.8 L83.2,307.2 L83.7,298.6 L84.3,290.0 L84.7,283.8 L85.1,277.2 L85.4,270.7 L85.8,264.5 L86.2,259.2 L86.6,255.1 L86.8,253.3 L87.0,251.5 L87.2,249.9 L87.4,248.5 L87.6,247.6 L87.8,247.3 L88.3,247.4 L88.9,247.8 L89.4,248.3 L90.0,248.7 L90.5,249.1 L91.1,249.2 L92.0,249.1 L93.0,248.7 L93.9,248.3 L94.9,247.8 L95.8,247.4 L96.8,247.3 L98.0,247.3 L99.2,247.3 L100.4,247.3 L101.6,247.3 L102.8,247.3 L104.0,247.3 L105.2,247.6 L106.4,248.4 L107.5,249.4 L108.7,250.5 L109.9,251.2 L111.1,251.6 L111.9,251.2 L112.8,250.5 L113.7,249.4 L114.5,248.4 L115.3,247.6 L116.2,247.3 L116.3,247.5 L116.4,247.9 L116.5,248.5 L116.6,249.2 L116.7,249.9 L116.9,250.6 L117.0,251.4 L117.2,252.3 L117.3,253.2 L117.5,254.1 L117.6,255.0 L117.8,255.9 L118.1,257.4 L118.3,259.0 L118.6,260.6 L118.8,262.1 L119.1,263.4 L119.3,264.4 L119.6,265.2 L119.9,266.0 L120.1,266.7 L120.4,267.3 L120.6,267.7 L120.9,267.9 L121.1,267.7 L121.3,267.3 L121.5,266.7 L121.7,266.0 L121.9,265.2 L122.1,264.4 L122.2,263.4 L122.4,262.1 L122.6,260.6 L122.8,259.0 L123.0,257.4 L123.2,255.9 L123.4,254.7 L123.5,253.6 L123.7,252.4 L123.9,251.2 L124.0,250.0 L124.2,248.8 L124.2,248.5 L124.3,248.2 L124.3,247.9 L124.3,247.6 L124.4,247.4 L124.4,247.3 L124.7,252.4 L125.1,265.8 L125.4,284.3 L125.7,305.0 L126.1,324.7 L126.4,340.4 L126.6,348.0 L126.8,355.5 L127.0,362.6 L127.2,369.2 L127.4,375.1 L127.6,379.9 L127.9,385.6 L128.2,390.6 L128.4,395.0 L128.7,399.0 L129.0,402.6 L129.3,406.1 L129.5,408.7 L129.7,411.1 L129.9,413.4 L130.2,415.5 L130.4,417.4 L130.6,419.1 L130.9,421.3 L131.3,423.4 L131.6,425.3 L131.9,426.9 L132.3,428.4 L132.6,429.6 L133.0,430.7 L133.3,431.9 L133.7,432.9 L134.1,433.7 L134.4,434.4 L134.8,434.8 L135.2,435.1 L135.6,435.4 L135.9,435.6 L136.3,435.8 L136.7,435.9 L137.1,436.0 L137.5,435.9 L137.9,435.8 L138.3,435.6 L138.7,435.4 L139.1,435.1 L139.5,434.8 L140.1,434.3 L140.7,433.7 L141.2,433.0 L141.8,432.1 L142.4,430.9 L143.0,429.6 L143.3,428.6 L143.6,427.3 L143.8,425.7 L144.1,423.8 L144.4,421.5 L144.7,419.1 L144.8,417.6 L145.0,416.0 L145.1,414.0 L145.3,411.8 L145.4,409.2 L145.6,406.1 L145.7,403.1 L145.8,399.0 L145.9,394.3 L146.0,389.3 L146.1,384.4 L146.2,379.9 L146.4,373.4 L146.6,367.8 L146.8,362.4 L147.0,356.4 L147.2,349.3 L147.4,340.4 L147.6,328.0 L147.7,309.2 L147.9,287.9 L148.0,267.9 L148.2,253.1 L148.3,247.3 L148.3,247.6 L148.4,248.5 L148.4,249.8 L148.4,251.3 L148.4,252.7 L148.5,254.0 L148.6,259.1 L148.7,264.2 L148.8,269.3 L148.9,274.4 L149.1,279.6 L149.2,284.7 L149.3,291.1 L149.5,297.9 L149.6,304.8 L149.8,311.2 L149.9,316.8 L150.0,321.2 L150.2,324.8 L150.3,328.3 L150.5,331.4 L150.6,334.0 L150.8,335.7 L150.9,336.3 L151.1,335.7 L151.4,334.0 L151.6,331.4 L151.9,328.3 L152.1,324.8 L152.4,321.2 L152.6,316.8 L152.9,311.2 L153.1,304.8 L153.4,297.9 L153.6,291.1 L153.9,284.7 L154.1,279.6 L154.3,274.4 L154.5,269.3 L154.7,264.2 L154.9,259.1 L155.1,254.0 L155.2,252.7 L155.2,251.3 L155.3,249.8 L155.3,248.5 L155.4,247.6 L155.4,247.3 L155.4,247.6 L155.5,248.3 L155.5,249.3 L155.6,250.4 L155.6,251.5 L155.6,252.5 L155.8,256.5 L156.0,260.5 L156.2,264.5 L156.4,268.5 L156.6,272.5 L156.8,276.5 L157.0,281.6 L157.2,286.9 L157.5,292.3 L157.7,297.3 L157.9,301.7 L158.1,305.1 L158.4,307.9 L158.6,310.6 L158.8,313.1 L159.0,315.1 L159.3,316.4 L159.5,316.9 L159.7,316.4 L160.0,315.1 L160.2,313.1 L160.4,310.6 L160.6,307.9 L160.9,305.1 L161.1,301.7 L161.3,297.3 L161.5,292.3 L161.8,286.9 L162.0,281.6 L162.2,276.5 L162.4,272.5 L162.6,268.5 L162.8,264.5 L163.0,260.5 L163.2,256.5 L163.4,252.5 L163.4,251.5 L163.4,250.4 L163.5,249.3 L163.5,248.3 L163.6,247.6 L163.6,247.3 L163.6,247.7 L163.7,248.6 L163.7,250.0 L163.7,251.6 L163.8,253.1 L163.8,254.5 L164.0,260.0 L164.2,265.6 L164.3,271.1 L164.5,276.6 L164.7,282.1 L164.9,287.6 L165.1,294.5 L165.3,301.9 L165.5,309.3 L165.7,316.2 L165.9,322.3 L166.1,327.0 L166.3,330.8 L166.5,334.6 L166.7,338.0 L166.9,340.8 L167.1,342.6 L167.3,343.3 L167.5,342.6 L167.7,340.8 L167.9,338.0 L168.1,334.6 L168.3,330.8 L168.5,327.0 L168.7,322.3 L168.9,316.2 L169.1,309.3 L169.3,301.9 L169.5,294.5 L169.7,287.6 L169.9,282.1 L170.1,276.6 L170.3,271.1 L170.4,265.6 L170.6,260.0 L170.8,254.5 L170.8,253.1 L170.9,251.6 L170.9,250.0 L170.9,248.6 L171.0,247.7 L171.0,247.3 L171.0,247.8 L171.1,249.1 L171.1,251.0 L171.1,253.1 L171.1,255.2 L171.2,257.1 L171.3,264.7 L171.4,272.2 L171.6,279.7 L171.7,287.2 L171.8,294.7 L172.0,302.2 L172.1,311.6 L172.3,321.7 L172.4,331.7 L172.6,341.2 L172.7,349.4 L172.9,355.8 L173.0,361.1 L173.2,366.2 L173.3,370.8 L173.5,374.6 L173.6,377.1 L173.8,378.0 L173.9,377.1 L174.0,374.6 L174.2,370.8 L174.3,366.2 L174.4,361.1 L174.5,355.8 L174.6,349.4 L174.8,341.2 L174.9,331.7 L175.0,321.7 L175.1,311.6 L175.3,302.2 L175.4,294.7 L175.5,287.2 L175.6,279.7 L175.7,272.2 L175.8,264.7 L175.9,257.1 L175.9,255.2 L175.9,253.1 L175.9,251.0 L176.0,249.1 L176.0,247.8 L176.0,247.3 L176.1,253.1 L176.2,268.0 L176.3,288.4 L176.4,310.3 L176.5,330.2 L176.6,344.2 L176.8,360.3 L176.9,375.1 L177.1,388.2 L177.3,399.1 L177.4,407.2 L177.6,412.1 L178.1,420.7 L178.6,427.7 L179.1,433.1 L179.6,437.0 L180.1,439.4 L180.6,440.2 L182.2,440.6 L183.7,440.8 L185.3,441.0 L186.9,441.1 L188.4,441.2 L190.0,441.2 L192.5,441.2 L195.0,441.2 L197.5,441.2 L200.0,441.2 L202.5,441.2 L205.0,441.2 L206.8,441.2 L208.5,441.1 L210.2,441.0 L212.0,440.8 L213.8,440.6 L215.5,440.2 L215.9,439.4 L216.3,437.0 L216.7,433.1 L217.0,427.6 L217.4,420.7 L217.8,412.1 L217.9,406.8 L218.1,397.9 L218.2,386.3 L218.3,372.9 L218.5,358.6 L218.6,344.2 L218.7,328.5 L218.8,308.1 L218.9,286.5 L219.1,267.0 L219.2,252.8 L219.3,247.3 L219.3,248.0 L219.3,249.7 L219.3,252.2 L219.4,255.0 L219.4,257.9 L219.4,260.3 L219.5,270.3 L219.5,280.3 L219.6,290.3 L219.7,300.2 L219.8,310.2 L219.8,320.2 L219.9,332.7 L220.0,346.0 L220.1,359.4 L220.2,372.0 L220.3,382.9 L220.4,391.3 L220.5,398.4 L220.5,405.2 L220.6,411.3 L220.7,416.3 L220.8,419.6 L220.9,420.8 L221.1,419.6 L221.2,416.3 L221.4,411.3 L221.6,405.2 L221.7,398.4 L221.9,391.3 L222.1,382.9 L222.2,372.0 L222.4,359.4 L222.6,346.0 L222.7,332.7 L222.9,320.2 L223.0,310.2 L223.2,300.2 L223.3,290.3 L223.4,280.3 L223.6,270.3 L223.7,260.3 L223.8,257.9 L223.8,255.0 L223.8,252.2 L223.8,249.7 L223.9,248.0 L223.9,247.3 L224.0,252.7 L224.1,266.8 L224.2,286.0 L224.3,307.0 L224.4,326.3 L224.5,340.4 L224.6,353.9 L224.8,366.6 L224.9,378.0 L225.0,387.9 L225.2,395.8 L225.3,401.5 L225.5,406.6 L225.6,411.0 L225.8,414.7 L226.0,417.8 L226.1,420.1 L226.3,421.8 L226.7,425.0 L227.1,427.7 L227.6,430.0 L228.0,431.6 L228.4,432.7 L228.8,433.1 L229.2,432.7 L229.5,431.5 L229.9,429.8 L230.3,427.5 L230.6,424.8 L231.0,421.8 L231.2,419.9 L231.4,417.2 L231.6,414.0 L231.7,410.2 L231.9,406.0 L232.1,401.5 L232.3,394.7 L232.6,386.4 L232.8,376.6 L233.0,365.6 L233.3,353.5 L233.5,340.4 L233.7,326.1 L233.9,306.7 L234.1,285.8 L234.2,266.7 L234.4,252.7 L234.6,247.3 L234.6,247.5 L234.6,247.9 L234.6,248.5 L234.7,249.2 L234.7,249.9 L234.7,250.5 L234.7,253.0 L234.8,255.4 L234.9,257.9 L234.9,260.3 L235.0,262.8 L235.1,265.2 L235.2,268.3 L235.2,271.6 L235.3,274.9 L235.4,277.9 L235.5,280.6 L235.5,282.7 L235.6,284.4 L235.7,286.1 L235.8,287.6 L235.8,288.8 L235.9,289.7 L236.0,290.0 L236.1,289.7 L236.2,288.8 L236.3,287.6 L236.4,286.1 L236.4,284.4 L236.5,282.7 L236.6,280.6 L236.7,277.9 L236.8,274.9 L236.9,271.6 L237.0,268.3 L237.1,265.2 L237.1,262.8 L237.2,260.3 L237.3,257.9 L237.4,255.4 L237.4,253.0 L237.5,250.5 L237.5,249.9 L237.5,249.2 L237.6,248.5 L237.6,247.9 L237.6,247.5 L237.6,247.3 L237.6,247.8 L237.7,249.1 L237.7,251.0 L237.7,253.2 L237.8,255.3 L237.8,257.2 L238.0,264.8 L238.1,272.4 L238.3,280.0 L238.4,287.5 L238.6,295.1 L238.7,302.7 L238.9,312.2 L239.1,322.3 L239.3,332.5 L239.4,342.0 L239.6,350.3 L239.8,356.7 L240.0,362.1 L240.2,367.2 L240.4,371.9 L240.5,375.7 L240.7,378.2 L240.9,379.2 L241.0,378.2 L241.1,375.7 L241.2,371.9 L241.3,367.2 L241.4,362.1 L241.5,356.7 L241.6,350.3 L241.6,342.0 L241.7,332.5 L241.8,322.3 L241.9,312.2 L242.0,302.7 L242.1,295.1 L242.2,287.5 L242.3,280.0 L242.3,272.4 L242.4,264.8 L242.5,257.2 L242.5,255.3 L242.5,253.2 L242.5,251.0 L242.6,249.1 L242.6,247.8 L242.6,247.3 L242.7,252.9 L242.8,267.4 L242.9,287.3 L243.0,309.1 L243.1,329.2 L243.2,344.2 L243.3,359.3 L243.5,373.9 L243.6,387.3 L243.7,398.6 L243.9,407.1 L244.0,412.1 L244.4,420.9 L244.9,427.9 L245.3,433.3 L245.7,437.1 L246.2,439.4 L246.6,440.2 L248.0,440.6 L249.4,440.8 L250.8,441.0 L252.2,441.1 L253.6,441.2 L255.0,441.2 L258.3,441.2 L261.7,441.2 L265.0,441.2 L268.3,441.2 L271.7,441.2 L275.0,441.2 L276.4,441.2 L277.8,441.1 L279.2,441.0 L280.6,440.8 L282.0,440.6 L283.4,440.2 L283.7,439.4 L284.1,437.0 L284.4,433.1 L284.7,427.6 L285.1,420.6 L285.4,412.1 L285.5,406.7 L285.6,397.5 L285.8,385.7 L285.9,372.2 L286.0,358.1 L286.1,344.2 L286.2,327.8 L286.3,307.3 L286.5,285.8 L286.6,266.5 L286.7,252.6 L286.8,247.3 L286.8,247.9 L286.8,249.5 L286.9,251.7 L286.9,254.3 L286.9,256.9 L286.9,259.1 L287.0,268.2 L287.1,277.2 L287.2,286.2 L287.3,295.2 L287.4,304.2 L287.5,313.3 L287.7,324.6 L287.8,336.7 L287.9,348.8 L288.0,360.1 L288.2,370.0 L288.3,377.7 L288.4,384.0 L288.5,390.2 L288.6,395.7 L288.8,400.2 L288.9,403.3 L289.0,404.4 L289.1,403.3 L289.3,400.2 L289.4,395.7 L289.5,390.2 L289.6,384.0 L289.8,377.7 L289.9,370.0 L290.0,360.1 L290.1,348.8 L290.3,336.7 L290.4,324.6 L290.5,313.3 L290.6,304.2 L290.7,295.2 L290.8,286.2 L290.9,277.2 L291.1,268.2 L291.2,259.1 L291.2,256.9 L291.2,254.3 L291.2,251.7 L291.3,249.5 L291.3,247.9 L291.3,247.3 L291.4,252.8 L291.5,266.9 L291.6,286.2 L291.7,307.2 L291.8,326.4 L291.9,340.4 L292.0,351.7 L292.1,361.9 L292.2,371.1 L292.4,379.3 L292.5,386.5 L292.6,392.7 L292.7,399.3 L292.9,405.6 L293.0,411.4 L293.1,416.2 L293.3,419.8 L293.4,421.8 L294.1,426.8 L294.7,430.7 L295.4,433.6 L296.1,435.5 L296.7,436.6 L297.4,436.9 L298.1,436.5 L298.9,435.2 L299.6,433.1 L300.4,430.1 L301.1,426.4 L301.9,421.8 L302.1,419.5 L302.4,415.7 L302.6,410.9 L302.8,405.3 L303.1,399.1 L303.3,392.7 L303.5,386.1 L303.7,378.2 L304.0,369.5 L304.2,360.0 L304.4,350.3 L304.6,340.4 L304.7,333.9 L304.9,326.9 L305.0,319.6 L305.1,312.4 L305.3,305.6 L305.4,299.7 L305.7,288.2 L305.9,276.4 L306.2,265.3 L306.5,256.0 L306.7,249.7 L307.0,247.3 L307.1,247.5 L307.1,248.1 L307.2,248.9 L307.2,249.8 L307.3,250.8 L307.3,251.6 L307.6,254.8 L307.8,258.1 L308.1,261.4 L308.4,264.6 L308.6,267.9 L308.9,271.2 L309.2,275.3 L309.5,279.6 L309.8,284.0 L310.1,288.1 L310.4,291.7 L310.7,294.5 L311.0,296.8 L311.3,299.0 L311.6,301.0 L311.9,302.6 L312.2,303.7 L312.5,304.1 L312.6,303.7 L312.7,302.6 L312.9,301.0 L313.0,299.0 L313.1,296.8 L313.2,294.5 L313.3,291.7 L313.5,288.1 L313.6,284.0 L313.7,279.6 L313.8,275.3 L314.0,271.2 L314.1,267.9 L314.2,264.6 L314.3,261.4 L314.4,258.1 L314.5,254.8 L314.6,251.6 L314.6,250.8 L314.6,249.8 L314.6,248.9 L314.7,248.1 L314.7,247.5 L314.7,247.3 L314.9,252.9 L315.1,267.1 L315.2,286.6 L315.4,307.7 L315.6,326.8 L315.8,340.4 L316.0,352.0 L316.3,362.4 L316.5,371.6 L316.7,379.7 L317.0,386.7 L317.2,392.7 L317.5,399.2 L317.8,405.3 L318.0,410.6 L318.3,415.3 L318.6,419.0 L318.9,421.8 L319.3,425.0 L319.8,427.8 L320.2,430.1 L320.6,432.0 L321.1,433.4 L321.5,434.4 L322.2,435.6 L323.0,436.6 L323.8,437.5 L324.5,438.1 L325.2,438.5 L326.0,438.7 L327.0,438.5 L328.0,438.1 L329.0,437.4 L330.0,436.6 L331.0,435.6 L332.0,434.4 L332.7,433.4 L333.4,432.0 L334.1,430.1 L334.9,427.8 L335.6,425.1 L336.3,421.8 L336.7,419.2 L337.1,415.7 L337.6,411.2 L338.0,405.8 L338.4,399.6 L338.8,392.7 L339.1,386.9 L339.4,379.5 L339.6,370.8 L339.9,361.2 L340.2,350.9 L340.5,340.4 L340.6,334.5 L340.8,328.1 L340.9,321.3 L341.1,314.2 L341.2,306.9 L341.4,299.7 L341.6,290.2 L341.7,278.9 L341.9,267.4 L342.1,257.3 L342.2,250.1 L342.4,247.3 L342.7,248.2 L343.1,251.6 L343.4,258.9 L343.7,271.4 L344.1,290.4 L344.4,317.1" fill="none" stroke="#000" stroke-width="2.25" stroke-linejoin="round"/>
<line x1="63.0" y1="247.3" x2="344.4" y2="247.3" stroke="#f00" stroke-width="2.3" stroke-dasharray="9.2 5.72"/>
<rect x="63.0" y="243.55" width="281.40" height="197.65" fill="none" stroke="#000" stroke-width="1.45"/>
<line x1="98.17" y1="441.2" x2="98.17" y2="428.5" stroke="#000" stroke-width="1.1"/>
<line x1="133.35" y1="441.2" x2="133.35" y2="435.2" stroke="#000" stroke-width="1.1"/>
<line x1="168.52" y1="441.2" x2="168.52" y2="428.5" stroke="#000" stroke-width="1.1"/>
<line x1="203.70" y1="441.2" x2="203.70" y2="435.2" stroke="#000" stroke-width="1.1"/>
<line x1="238.88" y1="441.2" x2="238.88" y2="428.5" stroke="#000" stroke-width="1.1"/>
<line x1="274.05" y1="441.2" x2="274.05" y2="435.2" stroke="#000" stroke-width="1.1"/>
<line x1="309.22" y1="441.2" x2="309.22" y2="428.5" stroke="#000" stroke-width="1.1"/>
<line x1="63.0" y1="392.73" x2="69.2" y2="392.73" stroke="#000" stroke-width="1.1"/>
<line x1="63.0" y1="344.25" x2="75.5" y2="344.25" stroke="#000" stroke-width="1.1"/>
<line x1="63.0" y1="295.77" x2="69.2" y2="295.77" stroke="#000" stroke-width="1.1"/>
<line x1="63.0" y1="247.30" x2="75.5" y2="247.30" stroke="#000" stroke-width="1.1"/>
<text transform="translate(98.17,463.20) scale(1,1.07)" font-size="22.3" text-anchor="middle" >-0.2</text>
<text transform="translate(168.52,463.20) scale(1,1.07)" font-size="22.3" text-anchor="middle" >0</text>
<text transform="translate(238.88,463.20) scale(1,1.07)" font-size="22.3" text-anchor="middle" >0.2</text>
<text transform="translate(309.22,463.20) scale(1,1.07)" font-size="22.3" text-anchor="middle" >0.4</text>
<text transform="translate(57.60,449.00) scale(1,1.07)" font-size="22.3" text-anchor="end" >0</text>
<text transform="translate(57.60,352.05) scale(1,1.07)" font-size="22.3" text-anchor="end" >0.5</text>
<text transform="translate(58.40,255.10) scale(1,1.07)" font-size="22.3" text-anchor="end" >1</text>
<text transform="translate(69.50,416.30) scale(1,0.97)" font-size="28.4" text-anchor="start" font-weight="bold">(c)</text>
<text transform="translate(284.50,425.70) scale(1,1.07)" font-size="23" text-anchor="start" fill="#00f"><tspan font-size="24.5">&#952;=</tspan><tspan dx="0.2">45</tspan><tspan font-size="17.5" dy="-11.3" dx="-0.4">o</tspan></text>
<path d="M400.5,328.7 L401.0,303.3 L401.6,282.7 L402.1,267.0 L402.6,256.0 L403.2,249.4 L403.7,247.3 L403.7,247.4 L403.8,247.5 L403.8,247.7 L403.9,248.0 L403.9,248.3 L404.0,248.5 L404.2,249.4 L404.5,250.3 L404.7,251.2 L404.9,252.1 L405.1,253.1 L405.4,254.0 L405.6,255.1 L405.9,256.3 L406.2,257.6 L406.4,258.7 L406.7,259.7 L407.0,260.5 L407.3,261.1 L407.5,261.8 L407.8,262.3 L408.1,262.8 L408.3,263.1 L408.6,263.2 L408.9,263.1 L409.2,262.8 L409.5,262.3 L409.9,261.8 L410.2,261.1 L410.5,260.5 L410.8,259.7 L411.1,258.7 L411.4,257.6 L411.7,256.4 L412.0,255.1 L412.4,254.0 L412.6,253.3 L412.7,252.6 L412.9,251.9 L413.1,251.2 L413.3,250.5 L413.5,249.8 L413.6,249.3 L413.8,248.8 L413.9,248.2 L414.0,247.8 L414.2,247.4 L414.3,247.3 L415.0,247.4 L415.7,247.6 L416.4,247.8 L417.1,248.0 L417.8,248.2 L418.5,248.3 L419.4,248.2 L420.3,248.0 L421.2,247.8 L422.2,247.6 L423.1,247.4 L424.0,247.3 L425.0,247.3 L426.0,247.3 L427.0,247.3 L428.0,247.3 L429.0,247.3 L430.0,247.3 L430.8,247.4 L431.6,247.8 L432.4,248.3 L433.2,248.7 L434.0,249.1 L434.8,249.2 L435.6,249.1 L436.5,248.7 L437.4,248.3 L438.2,247.8 L439.0,247.4 L439.9,247.3 L440.0,247.5 L440.2,248.0 L440.3,248.7 L440.4,249.6 L440.5,250.5 L440.7,251.2 L440.9,252.3 L441.0,253.3 L441.2,254.4 L441.4,255.5 L441.6,256.6 L441.8,257.6 L442.1,259.5 L442.4,261.4 L442.7,263.2 L443.0,265.0 L443.3,266.5 L443.6,267.7 L443.9,268.7 L444.2,269.7 L444.5,270.6 L444.8,271.3 L445.1,271.8 L445.4,271.9 L445.6,271.8 L445.8,271.3 L445.9,270.6 L446.1,269.7 L446.3,268.7 L446.5,267.7 L446.7,266.5 L446.9,265.0 L447.0,263.2 L447.2,261.3 L447.4,259.4 L447.6,257.6 L447.7,256.2 L447.9,254.8 L448.0,253.4 L448.2,252.0 L448.3,250.6 L448.5,249.1 L448.5,248.8 L448.6,248.4 L448.6,248.0 L448.6,247.6 L448.7,247.4 L448.7,247.3 L449.2,252.2 L449.6,265.0 L450.1,282.9 L450.6,303.3 L451.0,323.4 L451.5,340.4 L451.9,351.7 L452.2,363.4 L452.6,375.0 L452.9,385.7 L453.2,395.1 L453.6,402.4 L453.9,408.1 L454.3,413.4 L454.6,418.1 L454.9,422.1 L455.3,425.3 L455.6,427.6 L456.2,430.7 L456.8,433.4 L457.5,435.7 L458.1,437.5 L458.7,438.7 L459.3,439.3 L460.8,439.9 L462.2,440.4 L463.6,440.7 L465.1,441.0 L466.6,441.2 L468.0,441.2 L469.6,441.2 L471.2,441.0 L472.9,440.8 L474.5,440.4 L476.1,439.9 L477.7,439.3 L478.1,438.7 L478.5,437.5 L478.9,435.6 L479.4,433.3 L479.8,430.6 L480.2,427.6 L480.5,425.2 L480.7,422.1 L481.0,418.2 L481.3,413.6 L481.5,408.4 L481.8,402.4 L482.0,396.2 L482.3,388.4 L482.5,379.0 L482.7,367.9 L483.0,355.0 L483.2,340.4 L483.3,327.3 L483.5,308.3 L483.6,287.1 L483.7,267.5 L483.9,253.0 L484.0,247.3 L484.1,252.6 L484.2,266.0 L484.4,283.9 L484.5,303.0 L484.6,319.5 L484.7,329.9 L484.9,337.1 L485.0,343.0 L485.1,347.9 L485.3,352.1 L485.5,356.0 L485.6,360.0 L485.7,363.6 L485.9,367.2 L486.0,370.6 L486.1,373.7 L486.3,376.3 L486.4,378.2 L486.6,380.0 L486.7,381.8 L486.9,383.3 L487.1,384.5 L487.2,385.3 L487.4,385.6 L487.6,385.2 L487.7,384.4 L487.9,383.2 L488.1,381.6 L488.2,379.9 L488.4,378.2 L488.6,376.2 L488.7,373.7 L488.9,370.7 L489.1,367.4 L489.2,363.8 L489.4,360.0 L489.5,356.1 L489.7,351.6 L489.9,346.6 L490.0,341.3 L490.1,335.7 L490.3,329.9 L490.6,316.1 L490.9,298.7 L491.1,280.3 L491.4,263.8 L491.7,251.9 L492.0,247.3 L492.4,251.8 L492.9,263.4 L493.3,279.6 L493.7,297.9 L494.2,315.5 L494.6,329.9 L494.7,333.6 L494.9,337.2 L495.0,340.8 L495.1,344.1 L495.3,347.3 L495.4,350.1 L495.6,354.2 L495.8,358.5 L496.0,362.5 L496.2,365.9 L496.4,368.2 L496.6,369.1 L496.8,368.2 L497.0,365.9 L497.2,362.5 L497.4,358.5 L497.6,354.2 L497.8,350.1 L497.9,347.3 L498.1,344.3 L498.2,341.0 L498.3,337.5 L498.5,333.8 L498.6,329.9 L498.9,316.8 L499.3,299.5 L499.6,281.0 L499.9,264.2 L500.3,252.0 L500.6,247.3 L500.8,252.2 L500.9,264.9 L501.1,282.2 L501.3,300.9 L501.4,317.9 L501.6,329.9 L501.7,336.4 L501.9,342.2 L502.0,347.4 L502.1,352.1 L502.3,356.3 L502.4,360.0 L502.6,365.0 L502.8,369.8 L503.0,374.1 L503.2,377.8 L503.4,380.8 L503.6,383.0 L503.8,385.1 L504.1,386.9 L504.3,388.6 L504.5,389.8 L504.8,390.7 L505.0,391.0 L505.2,390.7 L505.4,390.0 L505.6,388.8 L505.8,387.2 L506.0,385.2 L506.2,383.0 L506.3,381.1 L506.4,378.3 L506.5,374.6 L506.7,370.3 L506.8,365.3 L506.9,360.0 L507.0,356.4 L507.0,352.0 L507.1,347.1 L507.2,341.6 L507.2,335.9 L507.3,329.9 L507.4,316.5 L507.5,299.2 L507.6,280.7 L507.8,264.0 L507.9,252.0 L508.0,247.3 L508.1,252.1 L508.3,264.5 L508.4,281.5 L508.5,300.1 L508.7,317.2 L508.8,329.9 L508.9,339.0 L509.1,347.2 L509.2,354.7 L509.3,361.6 L509.5,367.7 L509.6,373.3 L509.8,379.9 L509.9,386.2 L510.1,392.0 L510.3,397.1 L510.4,401.3 L510.6,404.4 L510.8,406.8 L510.9,409.1 L511.1,411.1 L511.3,412.6 L511.4,413.7 L511.6,414.1 L511.8,413.7 L511.9,412.8 L512.0,411.4 L512.2,409.5 L512.4,407.1 L512.5,404.4 L512.6,401.3 L512.7,396.3 L512.8,389.7 L512.9,381.8 L513.0,373.0 L513.1,363.6 L513.2,347.3 L513.3,323.6 L513.5,297.1 L513.6,272.5 L513.7,254.4 L513.8,247.3 L513.9,252.6 L514.0,266.5 L514.1,285.8 L514.2,307.3 L514.3,327.8 L514.4,344.2 L514.5,358.1 L514.6,372.2 L514.7,385.7 L514.8,397.5 L514.9,406.7 L515.0,412.1 L515.3,420.6 L515.6,427.6 L515.9,433.1 L516.1,437.0 L516.4,439.4 L516.7,440.2 L518.9,440.6 L521.1,440.9 L523.4,441.0 L525.6,441.1 L527.8,441.2 L530.0,441.2 L538.3,441.2 L546.7,441.2 L555.0,441.2 L563.3,441.2 L571.7,441.2 L580.0,441.2 L582.3,441.2 L584.6,441.2 L586.9,441.2 L589.1,441.2 L591.4,441.2 L593.7,441.2 L593.8,440.9 L593.9,440.2 L594.0,438.8 L594.2,437.0 L594.3,434.5 L594.4,431.5 L594.5,425.9 L594.5,414.0 L594.6,397.9 L594.7,379.6 L594.7,361.1 L594.8,344.2 L594.9,326.4 L594.9,305.5 L595.0,284.3 L595.1,265.6 L595.1,252.4 L595.2,247.3 L595.6,247.3 L596.0,247.3 L596.4,247.3 L596.7,247.3 L597.1,247.3 L597.5,247.3 L597.6,252.4 L597.6,265.6 L597.7,284.3 L597.8,305.5 L597.8,326.4 L597.9,344.2 L598.0,361.1 L598.0,379.6 L598.1,397.9 L598.2,414.0 L598.2,425.9 L598.3,431.5 L598.4,434.5 L598.5,437.0 L598.6,438.8 L598.8,440.2 L598.9,440.9 L599.0,441.2 L600.0,441.2 L601.0,441.2 L602.0,441.2 L603.0,441.2 L604.0,441.2 L605.0,441.2 L605.7,441.2 L606.4,441.2 L607.1,441.2 L607.9,441.2 L608.6,441.2 L609.3,441.2 L609.4,440.9 L609.5,440.0 L609.6,438.6 L609.8,436.6 L609.9,434.3 L610.0,431.5 L610.1,427.8 L610.2,421.4 L610.2,413.0 L610.3,403.3 L610.4,393.1 L610.5,383.0 L610.6,374.8 L610.6,365.9 L610.7,356.4 L610.8,346.3 L610.8,335.8 L610.9,324.9 L611.0,311.4 L611.0,294.9 L611.1,277.8 L611.2,262.5 L611.2,251.5 L611.3,247.3 L611.3,247.7 L611.3,248.9 L611.3,250.6 L611.3,252.5 L611.3,254.4 L611.3,256.0 L611.4,262.8 L611.4,269.4 L611.4,276.1 L611.4,282.8 L611.5,289.5 L611.5,296.2 L611.5,304.5 L611.6,313.5 L611.6,322.5 L611.6,330.9 L611.7,338.2 L611.7,343.9 L611.7,348.6 L611.8,353.1 L611.8,357.2 L611.8,360.6 L611.9,362.8 L611.9,363.6 L611.9,362.8 L612.0,360.6 L612.0,357.2 L612.0,353.1 L612.0,348.6 L612.1,343.9 L612.1,338.2 L612.1,330.9 L612.1,322.5 L612.2,313.5 L612.2,304.5 L612.2,296.2 L612.3,289.5 L612.3,282.8 L612.3,276.1 L612.3,269.4 L612.3,262.8 L612.4,256.0 L612.4,254.4 L612.4,252.5 L612.4,250.6 L612.4,248.9 L612.4,247.7 L612.4,247.3 L612.4,247.8 L612.4,249.0 L612.4,250.8 L612.4,252.8 L612.4,254.8 L612.4,256.6 L612.5,263.8 L612.5,270.9 L612.6,278.0 L612.6,285.2 L612.6,292.3 L612.7,299.4 L612.7,308.4 L612.8,317.9 L612.8,327.5 L612.8,336.4 L612.9,344.3 L612.9,350.3 L613.0,355.3 L613.0,360.2 L613.1,364.6 L613.1,368.1 L613.2,370.5 L613.2,371.4 L613.2,370.5 L613.3,368.1 L613.3,364.6 L613.4,360.2 L613.4,355.3 L613.5,350.3 L613.5,344.3 L613.6,336.4 L613.6,327.5 L613.6,317.9 L613.7,308.4 L613.7,299.4 L613.8,292.3 L613.8,285.2 L613.8,278.0 L613.9,270.9 L613.9,263.8 L614.0,256.6 L614.0,254.8 L614.0,252.8 L614.0,250.8 L614.0,249.0 L614.0,247.8 L614.0,247.3 L614.0,247.7 L614.0,248.9 L614.0,250.5 L614.0,252.3 L614.0,254.1 L614.0,255.7 L614.1,262.2 L614.1,268.7 L614.1,275.2 L614.1,281.6 L614.2,288.1 L614.2,294.5 L614.2,302.6 L614.3,311.3 L614.3,319.9 L614.3,328.1 L614.4,335.2 L614.4,340.6 L614.4,345.2 L614.5,349.6 L614.5,353.6 L614.5,356.8 L614.6,359.0 L614.6,359.8 L614.6,359.0 L614.7,356.8 L614.7,353.6 L614.7,349.6 L614.7,345.2 L614.8,340.6 L614.8,335.2 L614.8,328.1 L614.8,319.9 L614.9,311.3 L614.9,302.6 L614.9,294.5 L615.0,288.1 L615.0,281.6 L615.0,275.2 L615.0,268.7 L615.0,262.2 L615.1,255.7 L615.1,254.1 L615.1,252.3 L615.1,250.5 L615.1,248.9 L615.1,247.7 L615.1,247.3 L615.2,252.4 L615.2,265.6 L615.3,284.3 L615.4,305.5 L615.4,326.4 L615.5,344.2 L615.6,361.1 L615.6,379.6 L615.7,397.9 L615.8,414.0 L615.8,425.9 L615.9,431.5 L616.0,434.5 L616.1,437.0 L616.2,438.8 L616.4,440.2 L616.5,440.9 L616.6,441.2 L618.8,441.2 L621.1,441.2 L623.3,441.2 L625.5,441.2 L627.8,441.2 L630.0,441.2 L638.6,441.2 L647.3,441.2 L656.0,441.2 L664.6,441.2 L673.2,441.2 L681.9,441.2" fill="none" stroke="#000" stroke-width="2.25" stroke-linejoin="round"/>
<line x1="400.3" y1="247.3" x2="681.9" y2="247.3" stroke="#f00" stroke-width="2.3" stroke-dasharray="9.2 5.72"/>
<rect x="400.3" y="243.55" width="281.60" height="197.65" fill="none" stroke="#000" stroke-width="1.45"/>
<line x1="435.50" y1="441.2" x2="435.50" y2="428.5" stroke="#000" stroke-width="1.1"/>
<line x1="470.70" y1="441.2" x2="470.70" y2="435.2" stroke="#000" stroke-width="1.1"/>
<line x1="505.90" y1="441.2" x2="505.90" y2="428.5" stroke="#000" stroke-width="1.1"/>
<line x1="541.10" y1="441.2" x2="541.10" y2="435.2" stroke="#000" stroke-width="1.1"/>
<line x1="576.30" y1="441.2" x2="576.30" y2="428.5" stroke="#000" stroke-width="1.1"/>
<line x1="611.50" y1="441.2" x2="611.50" y2="435.2" stroke="#000" stroke-width="1.1"/>
<line x1="646.70" y1="441.2" x2="646.70" y2="428.5" stroke="#000" stroke-width="1.1"/>
<line x1="400.3" y1="392.73" x2="406.5" y2="392.73" stroke="#000" stroke-width="1.1"/>
<line x1="400.3" y1="344.25" x2="412.8" y2="344.25" stroke="#000" stroke-width="1.1"/>
<line x1="400.3" y1="295.77" x2="406.5" y2="295.77" stroke="#000" stroke-width="1.1"/>
<line x1="400.3" y1="247.30" x2="412.8" y2="247.30" stroke="#000" stroke-width="1.1"/>
<text transform="translate(435.50,463.20) scale(1,1.07)" font-size="22.3" text-anchor="middle" >-0.2</text>
<text transform="translate(505.90,463.20) scale(1,1.07)" font-size="22.3" text-anchor="middle" >0</text>
<text transform="translate(576.30,463.20) scale(1,1.07)" font-size="22.3" text-anchor="middle" >0.2</text>
<text transform="translate(646.70,463.20) scale(1,1.07)" font-size="22.3" text-anchor="middle" >0.4</text>
<text transform="translate(394.90,449.00) scale(1,1.07)" font-size="22.3" text-anchor="end" >0</text>
<text transform="translate(394.90,352.05) scale(1,1.07)" font-size="22.3" text-anchor="end" >0.5</text>
<text transform="translate(395.70,255.10) scale(1,1.07)" font-size="22.3" text-anchor="end" >1</text>
<text transform="translate(411.20,422.40) scale(1,0.97)" font-size="28.4" text-anchor="start" font-weight="bold">(d)</text>
<text transform="translate(622.70,424.70) scale(1,1.07)" font-size="23" text-anchor="start" fill="#00f"><tspan font-size="24.5">&#952;=</tspan><tspan dx="0.2">60</tspan><tspan font-size="17.5" dy="-12.4" dx="-0.4">o</tspan></text>
<polygon points="564.5,11.9 565.8,5.1 567.0999999999999,11.9" fill="#000"/>
<polygon points="589.1,11.9 590.4,1.0 591.6999999999999,11.9" fill="#000"/>
<polygon points="482.59999999999997,249.3 483.9,241.7 485.2,249.3" fill="#000"/>
<polygon points="611.0,249.3 612.3,242.0 613.5999999999999,249.3" fill="#000"/>
<polygon points="236.29999999999998,249.3 237.6,245.3 238.9,249.3" fill="#000"/>
<text transform="translate(23.50,104.40) rotate(-90) scale(1,1.0)" font-size="31.6" text-anchor="middle" >Transmittance</text>
<text transform="translate(23.50,343.00) rotate(-90) scale(1,1.0)" font-size="31.6" text-anchor="middle" >Transmittance</text>
<text transform="translate(203.80,490.00) scale(1,1.0)" font-size="31.6" text-anchor="middle" >Energy (eV)</text>
<text transform="translate(542.40,490.00) scale(1,1.0)" font-size="31.6" text-anchor="middle" >Energy (eV)</text>
</svg>
</body></html>
